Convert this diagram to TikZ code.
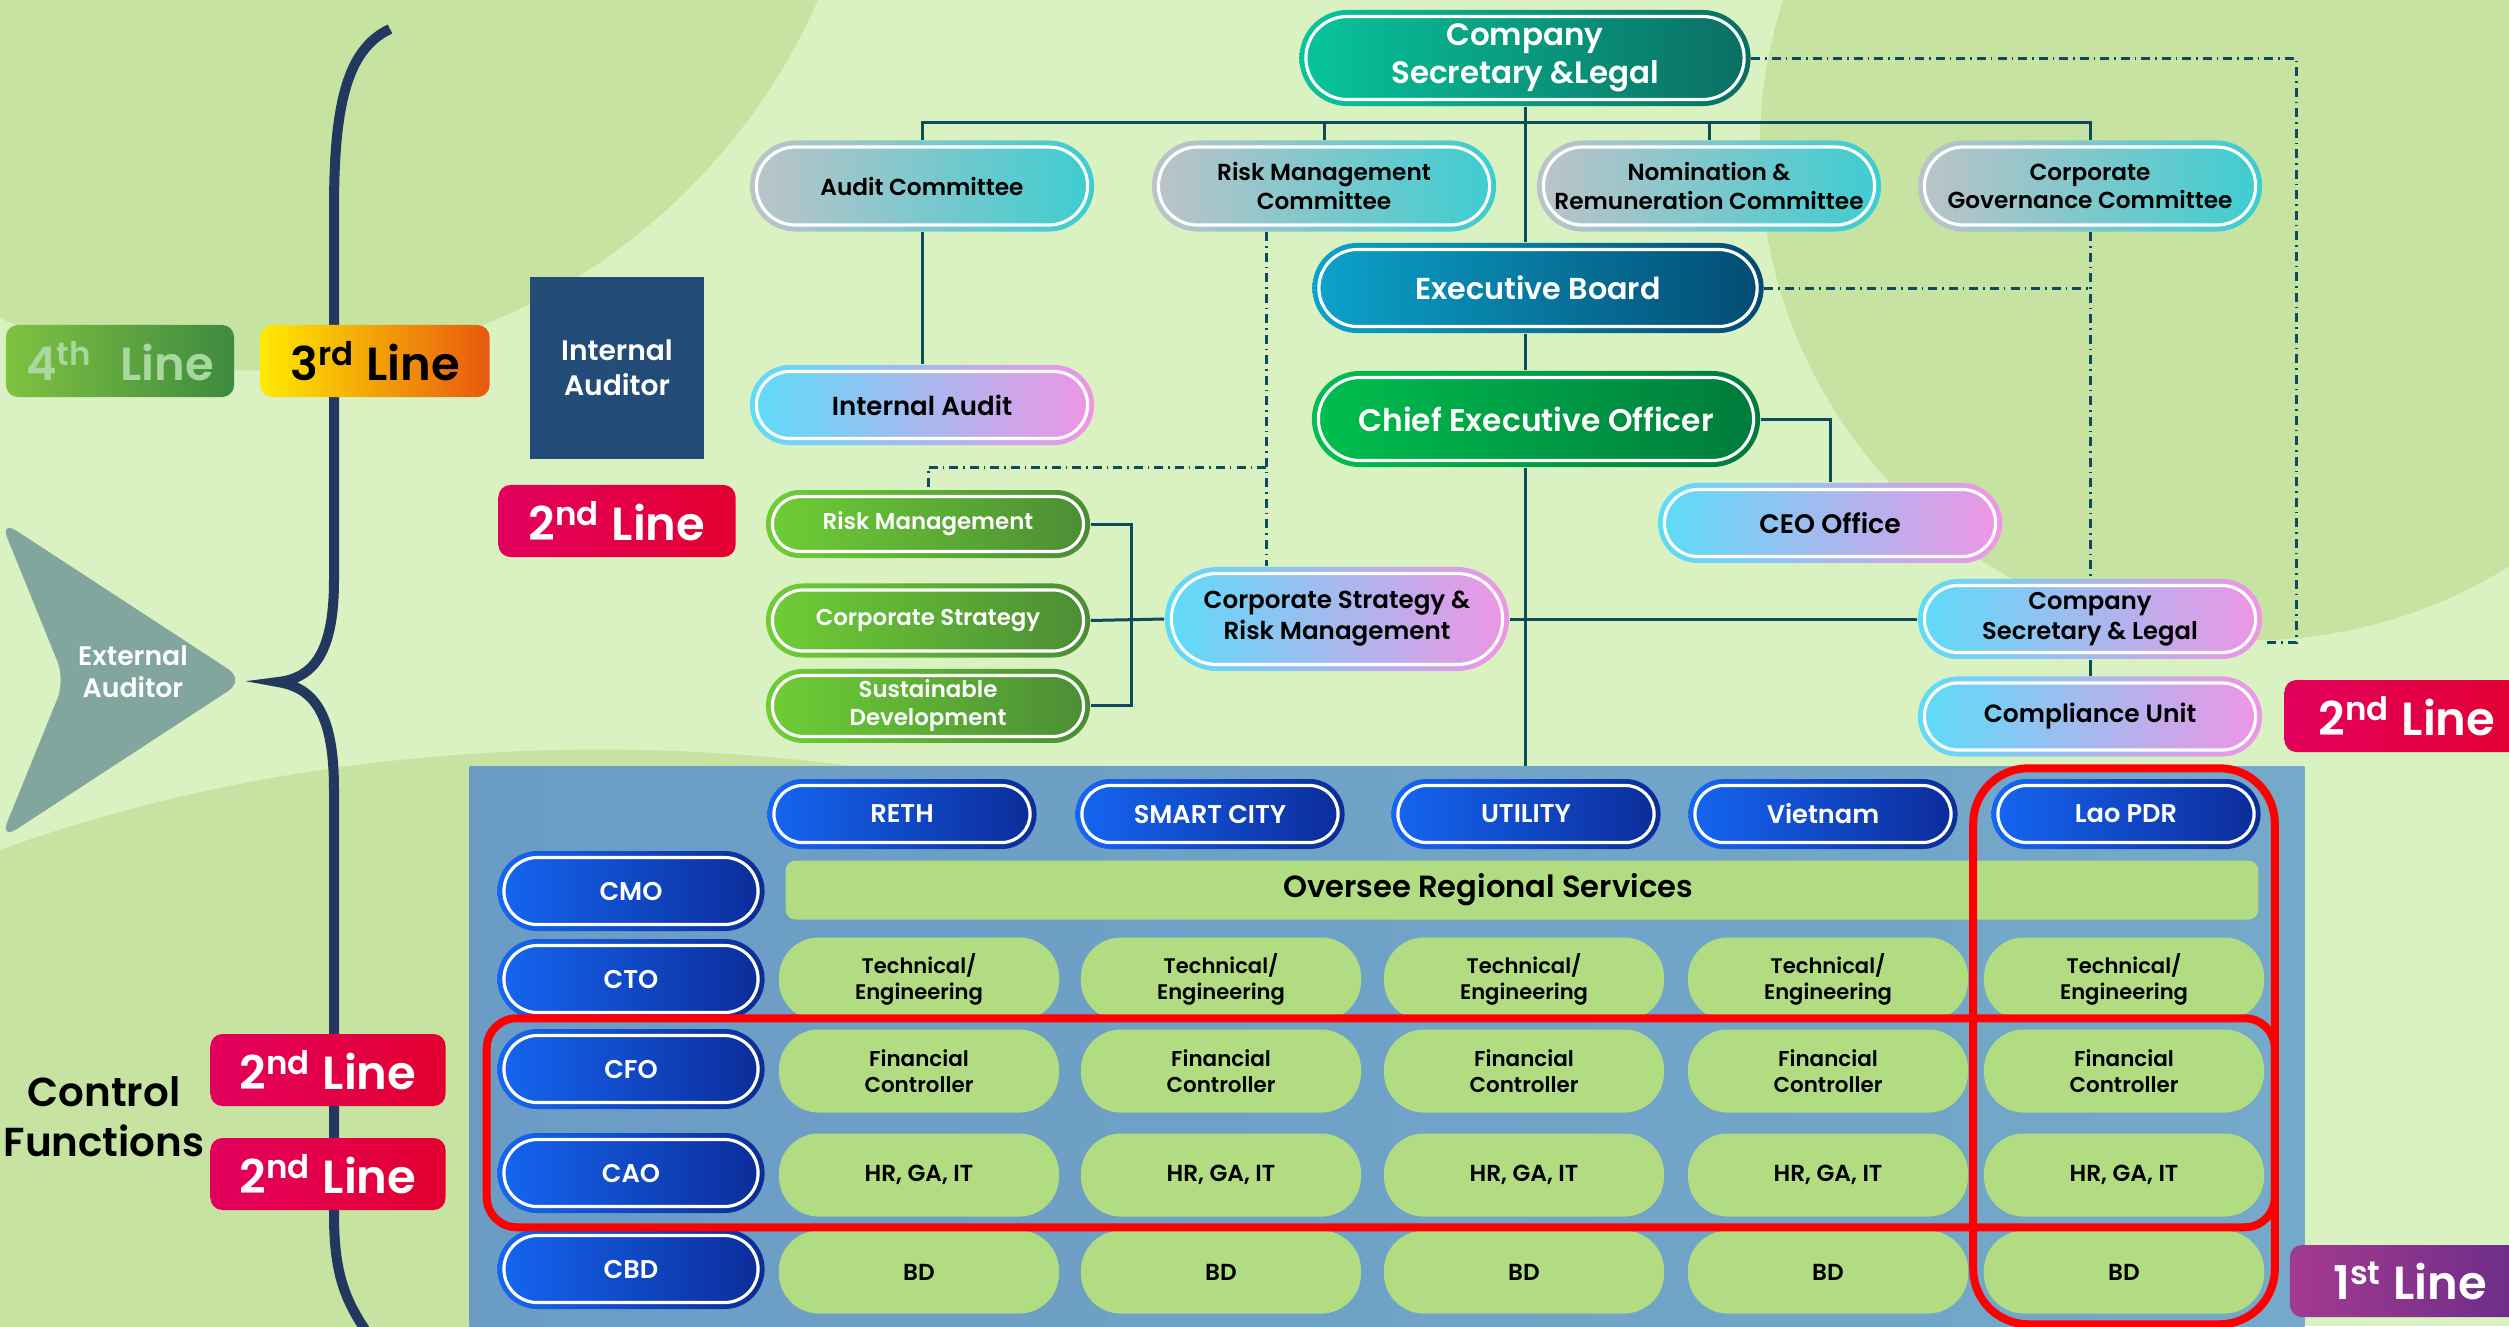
\documentclass[tikz,border=0pt]{standalone}
\usepackage{fontspec}
\setmainfont{Poppins}[BoldFont={Poppins SemiBold}]
\usetikzlibrary{positioning,fit}
\definecolor{bgA}{HTML}{DAF1C1}
\definecolor{bgB}{HTML}{C6E3A2}
\definecolor{navyc}{HTML}{22385F}
\definecolor{linec}{HTML}{0E4B5C}
\definecolor{cmtL}{HTML}{BDC3C8}
\definecolor{cmtR}{HTML}{3CCDD1}
\definecolor{tealL}{HTML}{08C59B}
\definecolor{tealR}{HTML}{0A6E62}
\definecolor{brdL}{HTML}{0BA3CB}
\definecolor{brdR}{HTML}{034B72}
\definecolor{ceoL}{HTML}{00BF4E}
\definecolor{ceoR}{HTML}{007A3B}
\definecolor{vioL}{HTML}{5CDCF8}
\definecolor{vioM}{HTML}{A79DF8}
\definecolor{vioR}{HTML}{F095E5}
\definecolor{grnL}{HTML}{6FCE35}
\definecolor{grnR}{HTML}{4B8D35}
\definecolor{bluL}{HTML}{1566F2}
\definecolor{bluR}{HTML}{0C2B98}
\definecolor{cellg}{HTML}{B2DC81}
\definecolor{regL}{HTML}{6B9CC5}
\definecolor{regR}{HTML}{74A9C9}
\definecolor{g4L}{HTML}{80C241}
\definecolor{g4R}{HTML}{3E8A3F}
\definecolor{g4T}{HTML}{A8D89C}
\definecolor{y3L}{HTML}{FFEA00}
\definecolor{y3M}{HTML}{FFB000}
\definecolor{y3R}{HTML}{E8580F}
\definecolor{r2L}{HTML}{E3005E}
\definecolor{r2M}{HTML}{E5007C}
\definecolor{r2R}{HTML}{E30030}
\definecolor{p1L}{HTML}{A33A8F}
\definecolor{p1R}{HTML}{6A2D89}
\definecolor{intc}{HTML}{234C78}
\definecolor{extc}{HTML}{80A69D}

\begin{document}
\begin{tikzpicture}[x=0.01cm, y=-0.01cm,
  pill/.style={rectangle, rounded corners=#1, minimum height=2*#1, inner sep=0pt, align=center,
    path picture={\draw[white, line width=0.9pt, rounded corners=#1-0.065cm]
      ([shift={(0.065cm,-0.065cm)}]path picture bounding box.north west) rectangle
      ([shift={(-0.065cm,0.065cm)}]path picture bounding box.south east);}},
  cgrey/.style={pill=0.455cm, minimum width=3.44cm, left color=cmtL, right color=cmtR, font=\fontsize{6.6}{8}\selectfont\bfseries},
  cviolet/.style={pill=#1, minimum width=3.44cm, left color=vioL, middle color=vioM, right color=vioR},
  cgreen/.style={pill=#1, minimum width=3.24cm, left color=grnL, right color=grnR, text=white, font=\fontsize{6.5}{8}\selectfont\bfseries},
  bluepill/.style={pill=#1, left color=bluL, right color=bluR, text=white, font=\fontsize{7.3}{8}\selectfont\bfseries},
  cell/.style={rectangle, rounded corners=0.4cm, fill=cellg, minimum width=2.8cm, minimum height=0.83cm, inner sep=0pt, align=center},
  tag/.style={rectangle, rounded corners=0.12cm, minimum height=0.72cm, inner sep=0pt, text=white, font=\fontsize{13.2}{16}\selectfont\bfseries},
  redbox/.style={draw=red, line width=0.08cm, rounded corners=#1, inner sep=0.1cm},
  link/.style={draw=linec, line width=0.03cm},
  dd/.style={link, dash pattern=on 0.09cm off 0.05cm on 0.015cm off 0.05cm}]

\useasboundingbox (0,0) rectangle (2509,1326);
\fill[bgA] (0,0) rectangle (2509,1326);
\fill[bgB] (250,-250) circle (6.2cm);
\fill[bgB] (2250,150) circle (4.9cm);
\fill[bgB] (600,1500) ellipse [x radius=12cm, y radius=7.5cm];

\draw[navyc, line width=0.1cm] (390,29) .. controls (345,50) and (334,110) .. (334,210) -- (334,580)
  .. controls (334,650) and (315,678) .. (278,682) .. controls (315,688) and (334,715) .. (334,790)
  -- (334,1215) .. controls (334,1280) and (348,1305) .. (372,1340);

\fill[extc, rounded corners=0.2cm] (0,520) -- (245,680) -- (0,840) -- (65,680) -- cycle;
\node[text=white, align=center, font=\fontsize{7.6}{9}\selectfont\bfseries] (ext) at (133,672) {External\\Auditor};

\node[tag, minimum width=2.28cm, left color=g4L, right color=g4R, text=g4T] (l4) at (120,361) {4\textsuperscript{th}\hspace{0.6em}Line};
\node[tag, minimum width=2.29cm, left color=y3L, middle color=y3M, right color=y3R, text=black] (l3) at (375,361) {3\textsuperscript{rd} Line};
\node[fill=intc, minimum width=1.74cm, minimum height=1.81cm, text=white, align=center, font=\fontsize{8}{10}\selectfont\bfseries] (intaud) at (617,368) {Internal\\Auditor};
\node[tag, minimum width=2.37cm, left color=r2L, middle color=r2M, right color=r2R] (l2a) at (617,521) {2\textsuperscript{nd} Line};
\node[align=center, font=\fontsize{11.5}{14.2}\selectfont\bfseries] (ctrl) at (104,1117) {Control\\Functions};
\node[tag, minimum width=2.35cm, left color=r2L, middle color=r2M, right color=r2R] (l2b) at (328,1070) {2\textsuperscript{nd} Line};
\node[tag, minimum width=2.35cm, left color=r2L, middle color=r2M, right color=r2R] (l2c) at (328,1174) {2\textsuperscript{nd} Line};
\node[tag, minimum width=2.45cm, left color=r2L, middle color=r2M, right color=r2R] (l2d) at (2407,716) {2\textsuperscript{nd} Line};

\node[pill=0.48cm, minimum width=4.51cm, left color=tealL, right color=tealR, text=white, font=\fontsize{8.8}{10.8}\selectfont\bfseries] (csl0) at (1525,58) {Company\\Secretary \&Legal};
\node[cgrey] (auditc) at (922,186) {Audit Committee};
\node[cgrey] (riskc) at (1324,186) {Risk Management\\Committee};
\node[cgrey] (nomc) at (1709,186) {Nomination \&\\Remuneration Committee};
\node[cgrey] (govc) at (2090,186) {Corporate\\Governance Committee};
\node[pill=0.45cm, minimum width=4.51cm, left color=brdL, right color=brdR, text=white, font=\fontsize{8.6}{10}\selectfont\bfseries] (board) at (1538,288) {Executive Board};
\node[pill=0.48cm, minimum width=4.48cm, left color=ceoL, right color=ceoR, text=white, font=\fontsize{8.9}{10}\selectfont\bfseries] (ceo) at (1536,419) {Chief Executive Officer};
\node[cviolet=0.4cm, font=\fontsize{7.4}{9}\selectfont\bfseries] (iaudit) at (922,405) {Internal Audit};
\node[cviolet=0.4cm, font=\fontsize{7.6}{9}\selectfont\bfseries] (ceooff) at (1830,523) {CEO Office};
\node[cgreen=0.34cm] (riskm) at (928,524) {Risk Management};
\node[cgreen=0.37cm] (corpstr) [below=0.24cm of riskm] {Corporate Strategy};
\node[cgreen=0.37cm] (susdev) [below=0.1cm of corpstr] {Sustainable\\Development};
\node[cviolet=0.52cm, font=\fontsize{7}{8.8}\selectfont\bfseries] (csrm) at (1337,619) {Corporate Strategy \&\\Risk Management};
\node[cviolet=0.4cm, font=\fontsize{6.9}{8.4}\selectfont\bfseries] (csl) at (2090,619) {Company\\Secretary \& Legal};
\node[cviolet=0.4cm, font=\fontsize{7.1}{9}\selectfont\bfseries] (comp) [below=0.16cm of csl] {Compliance Unit};

\coordinate (bus) at (1525,122);
\coordinate (jn) at (1131,619);
\coordinate (dda) at (1266,467);
\coordinate (ddb) at (2296,642);
\draw[link] (auditc.north) |- (bus) -| (govc.north);
\draw[link] (riskc.north) -- (riskc.north |- bus);
\draw[link] (nomc.north) -- (nomc.north |- bus);
\draw[link] (csl0.south) -- (csl0.south |- board.north);
\draw[link] (board.south -| csl0) -- (ceo.north -| csl0);
\draw[link] (auditc) -- (iaudit);
\draw[link] (ceo.east) -| (ceooff.north);
\draw[link] (riskm.east) -| (jn) |- (susdev.east);
\draw[link] (corpstr.east) -- (csrm.west);
\draw[link] (csrm.east) -- (csl.west);
\draw[link] (csl) -- (comp);
\draw[dd] (riskc.south -| dda) -- (csrm.north -| dda);
\draw[dd] (dda) -| (riskm.north);
\draw[dd] (govc) -- (csl);
\draw[dd] (board.east) -- (board.east -| govc);
\draw[dd] (csl0.east) -| (ddb) -- (ddb -| csl.east);

\node[left color=regL, right color=regR, minimum width=18.34cm, minimum height=5.6cm, inner sep=0pt] (region) at (1387,1047) {};
\draw[link] (ceo.south -| csl0) -- (region.north -| csl0);
\node[tag, minimum width=2.4cm, left color=p1L, right color=p1R] (l1) at (2410,1281) {1\textsuperscript{st} Line};

\node[bluepill=0.35cm, minimum width=2.69cm] (reth) at (902,814) {RETH};
\node[bluepill=0.35cm, minimum width=2.69cm] (smart) at (1210,814) {SMART CITY};
\node[bluepill=0.35cm, minimum width=2.69cm] (util) at (1526,814) {UTILITY};
\node[bluepill=0.35cm, minimum width=2.69cm] (viet) at (1823,814) {Vietnam};
\node[bluepill=0.35cm, minimum width=2.69cm] (lao) at (2126,814) {Lao PDR};
\node[bluepill=0.4cm, minimum width=2.67cm] (cmo) at (631,891) {CMO};
\node[bluepill=0.4cm, minimum width=2.67cm] (cto) at (631,979) {CTO};
\node[bluepill=0.4cm, minimum width=2.67cm] (cfo) at (631,1069) {CFO};
\node[bluepill=0.4cm, minimum width=2.67cm] (cao) at (631,1173) {CAO};
\node[bluepill=0.4cm, minimum width=2.67cm] (cbd) at (631,1269) {CBD};
\node[rectangle, rounded corners=0.1cm, fill=cellg, minimum width=14.72cm, minimum height=0.59cm, font=\fontsize{8.7}{10}\selectfont\bfseries] (oversee) at (1522,890) {Oversee Regional Services\hspace*{0.68cm}\mbox{}};
\foreach \x [count=\i] in {919,1221,1524,1828,2124} {
  \node[cell, font=\fontsize{6}{7.4}\selectfont\bfseries] (t\i) at (\x,979) {Technical/\\Engineering};
  \node[cell, font=\fontsize{6.1}{7.4}\selectfont\bfseries] (f\i) at (\x,1071) {Financial\\Controller};
  \node[cell, font=\fontsize{6.6}{8}\selectfont\bfseries] (h\i) at (\x,1175) {HR, GA, IT};
  \node[cell, font=\fontsize{6.6}{8}\selectfont\bfseries] (b\i) at (\x,1272) {BD};
}
\node[redbox=0.3cm, fit=(cfo)(h5)] (rowframe) {};
\node[redbox=0.55cm, fit=(lao)(b5)] (colframe) {};
\end{tikzpicture}
\end{document}
